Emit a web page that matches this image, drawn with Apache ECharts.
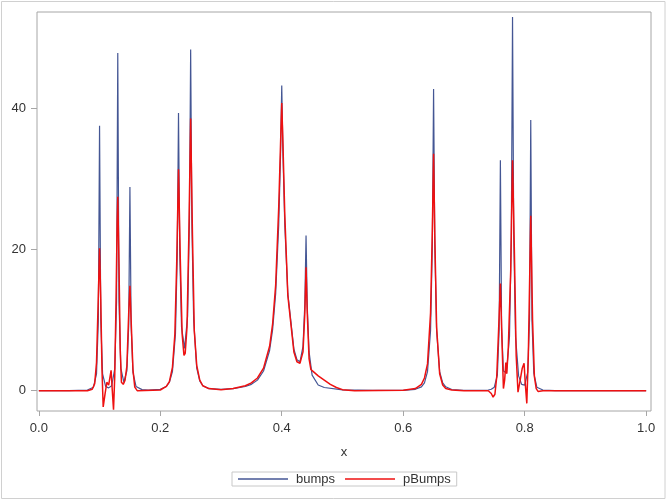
<!DOCTYPE html>
<html>
<head>
<meta charset="utf-8">
<script src="https://cdn.jsdelivr.net/npm/echarts@6/dist/echarts.min.js"></script>
<style>html,body{margin:0;padding:0;background:#fff}#c{width:666px;height:500px}</style>
</head>
<body>
<div id="c"></div>
<script>
// bumps series (x, y)
const bumpsX = [0.000,0.050,0.080,0.090,0.095,0.098,0.100,0.102,0.105,0.110,0.115,0.120,0.125,0.128,0.130,0.132,0.135,0.140,0.145,0.148,0.150,0.152,0.155,0.160,0.170,0.180,0.200,0.210,0.215,0.220,0.225,0.228,0.230,0.232,0.235,0.240,0.245,0.248,0.250,0.252,0.255,0.260,0.265,0.270,0.280,0.300,0.320,0.340,0.350,0.360,0.370,0.380,0.385,0.390,0.395,0.398,0.400,0.402,0.405,0.410,0.420,0.425,0.430,0.435,0.438,0.440,0.442,0.445,0.450,0.460,0.470,0.500,0.550,0.600,0.620,0.630,0.635,0.640,0.645,0.648,0.650,0.652,0.655,0.660,0.665,0.670,0.680,0.700,0.720,0.740,0.745,0.750,0.755,0.758,0.760,0.762,0.765,0.770,0.775,0.778,0.780,0.782,0.785,0.790,0.795,0.800,0.805,0.808,0.810,0.812,0.815,0.820,0.830,0.850,0.900,1.000];
const bumpsY = [0,0,0.1,0.5,2.4,9.9,37.6,9.9,2.4,0.6,0.4,0.7,3.1,12.6,47.9,12.7,3.2,1.2,2.8,9.2,28.9,9.2,2.6,0.6,0.15,0.1,0.2,0.6,1.2,2.7,8.1,19.5,39.4,19.8,9.0,6.0,10.6,24.2,48.4,23.8,9.9,3.2,1.4,0.7,0.3,0.2,0.3,0.6,0.9,1.5,2.8,5.7,8.7,13.8,23.5,33.4,43.3,33.5,23.5,13.8,5.9,4.4,4.1,6.3,12.3,22.0,11.9,5.5,2.2,0.8,0.45,0.12,0.05,0.05,0.2,0.55,1.1,2.7,8.5,20.7,42.8,20.7,8.5,2.7,1.1,0.55,0.17,0.05,0.04,0.1,0.2,0.5,2.2,8.8,32.7,9.0,2.8,2.5,7.7,21.8,53.0,21.7,7.6,2.1,0.9,0.8,2.6,10.1,38.4,10.1,2.5,0.5,0.1,0.02,0,0];
// pBumps series (x, y)
const pBumpsX = [0.000,0.080,0.088,0.092,0.095,0.098,0.100,0.102,0.104,0.106,0.109,0.112,0.115,0.119,0.121,0.123,0.125,0.127,0.129,0.130,0.132,0.134,0.136,0.139,0.142,0.145,0.148,0.150,0.152,0.155,0.158,0.162,0.200,0.210,0.215,0.220,0.224,0.227,0.230,0.233,0.236,0.239,0.241,0.244,0.247,0.250,0.253,0.256,0.260,0.265,0.270,0.280,0.300,0.320,0.340,0.350,0.360,0.370,0.380,0.385,0.390,0.395,0.398,0.400,0.402,0.405,0.410,0.420,0.425,0.430,0.435,0.438,0.440,0.442,0.445,0.448,0.452,0.460,0.470,0.480,0.490,0.500,0.520,0.600,0.620,0.630,0.635,0.640,0.645,0.648,0.650,0.652,0.655,0.660,0.665,0.670,0.680,0.700,0.740,0.745,0.748,0.751,0.754,0.757,0.760,0.763,0.765,0.767,0.769,0.7705,0.773,0.777,0.780,0.783,0.786,0.789,0.792,0.796,0.799,0.801,0.8035,0.806,0.810,0.813,0.816,0.819,0.822,0.830,1.000];
const pBumpsY = [0,0,0.2,1.0,4.0,13.5,20.2,13.0,3.0,-2.3,-0.5,1.2,0.8,2.9,0.0,-2.7,2.0,12.0,24.0,27.5,18.0,6.0,1.2,0.9,1.5,3.5,11.0,14.9,10.0,3.0,0.5,0.0,0.1,0.6,1.3,3.3,8.0,18.0,31.4,18.5,8.0,5.0,5.3,9.0,22.0,38.6,22.0,8.5,3.6,1.5,0.7,0.3,0.15,0.3,0.7,1.1,1.8,3.2,6.3,9.5,15.0,26.0,35.0,40.8,35.0,25.0,13.5,5.5,4.1,3.9,5.5,11.0,17.5,11.0,4.5,3.0,2.7,2.1,1.5,0.9,0.45,0.15,0.0,0.05,0.3,0.9,1.8,3.8,11.0,23.0,33.6,22.0,9.0,2.4,0.8,0.3,0.1,0.0,0.0,-0.4,-0.9,-0.5,2.0,8.5,15.2,6.0,0.3,1.5,4.0,2.4,6.0,17.0,32.7,20.0,5.0,-0.2,1.2,3.2,3.9,1.0,-1.8,5.0,24.8,10.0,2.0,0.3,-0.1,0.0,0.0];
const xTicks = [0, 0.2, 0.4, 0.6, 0.8, 1.0];
const yTicks = [0, 20, 40];
const seriesNames = ['bumps', 'pBumps'];

const zip = (xs, ys) => xs.map((x, i) => [x, ys[i]]);
const font = '"Liberation Sans", Arial, sans-serif';
const chart = echarts.init(document.getElementById('c'), null, {renderer: 'canvas'});
chart.setOption({
  animation: false,
  backgroundColor: '#fff',
  textStyle: {fontFamily: font},
  grid: {left: 37, top: 12, right: 15, bottom: 89, show: true, borderColor: '#a6a6a6', borderWidth: 1, outerBoundsMode: 'none'},
  xAxis: {
    type: 'value', min: -0.003, max: 1.008,
    name: 'x', nameLocation: 'middle', nameGap: 35,
    nameTextStyle: {fontSize: 13, color: '#333', fontFamily: font},
    axisLine: {show: false, onZero: false}, splitLine: {show: false},
    axisTick: {show: true, inside: false, length: 5, lineStyle: {color: '#a6a6a6'}, customValues: xTicks},
    axisLabel: {customValues: xTicks, formatter: v => v.toFixed(1), fontSize: 13, color: '#333', margin: 11, fontFamily: font}
  },
  yAxis: {
    type: 'value', min: -2.88, max: 53.72,
    axisLine: {show: false, onZero: false}, splitLine: {show: false},
    axisTick: {show: true, inside: false, length: 6, lineStyle: {color: '#a6a6a6'}, customValues: yTicks},
    axisLabel: {customValues: yTicks, formatter: v => String(Math.round(v)), fontSize: 13, color: '#333', margin: 11, fontFamily: font}
  },
  legend: {
    left: 232, top: 472, orient: 'horizontal',
    icon: 'rect',
    itemWidth: 50, itemHeight: 1.5, itemGap: 10,
    padding: [0, 6, 0, 6],
    borderColor: '#c8c8c8', borderWidth: 1,
    textStyle: {fontSize: 13, color: '#333', lineHeight: 14, padding: [0, 0, 0, 3], fontFamily: font},
    data: seriesNames
  },
  graphic: [{
    type: 'rect', silent: true,
    shape: {x: 1.5, y: 1.5, width: 663.5, height: 497},
    style: {fill: null, stroke: '#d0d0d0', lineWidth: 1}
  }],
  series: [
    {name: seriesNames[0], type: 'line', data: zip(bumpsX, bumpsY), symbol: 'none', smooth: false,
     lineStyle: {color: '#445694', width: 1.2}, itemStyle: {color: '#445694'}},
    {name: seriesNames[1], type: 'line', data: zip(pBumpsX, pBumpsY), symbol: 'none', smooth: false,
     lineStyle: {color: '#ee1111', width: 1.5}, itemStyle: {color: '#ee1111'}}
  ]
});
</script>
</body>
</html>
